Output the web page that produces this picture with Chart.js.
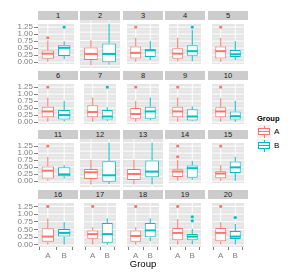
<!DOCTYPE html>
<html>
<head>
<meta charset="utf-8">
<script src="https://cdn.jsdelivr.net/npm/chart.js@4/dist/chart.umd.min.js"></script>
<style>
body { margin: 0; background: #fff; font-family: "Liberation Sans", Arial, sans-serif; }
#fig { position: relative; width: 303px; height: 275px; overflow: hidden; background: #fff; }
#fig canvas { position: absolute; }
.strip { position: absolute; width: 40px; height: 9px; background: #CCCCCC; color: #1A1A1A;
         font-size: 7.5px; line-height: 9.5px; text-align: center; }
.xtitle { position: absolute; left: 38px; width: 210px; top: 258px; text-align: center;
          font-size: 9.5px; color: #000; }
.ltitle { position: absolute; left: 257px; top: 114px; font-size: 7.5px; font-weight: bold; color: #000; }
.key { position: absolute; width: 14px; height: 13px; background: #F2F2F2; }
.key div { position: absolute; }
.klabel { position: absolute; left: 274px; font-size: 8px; color: #000; line-height: 10px; }
</style>
</head>
<body>
<div id="fig"></div>
<script>
'use strict';

// facet labels and groups
var panels = ['1', '2', '3', '4', '5', '6', '7', '8', '9', '10',
              '11', '12', '13', '14', '15', '16', '17', '18', '19', '20'];
var groups = ['A', 'B'];
var yTicks = [0, 0.25, 0.5, 0.75, 1, 1.25];

// box stats per panel, group A
var lowA  = [0.01, 0.01, 0.01, 0.02, 0.01, 0.01, 0.01, 0.01, 0.01, 0.01,
             0.01, 0.01, 0.01, 0.01, 0.01, 0.01, 0.01, 0.01, 0.01, 0.01];
var q1A   = [0.12, 0.17, 0.13, 0.12, 0.13, 0.17, 0.17, 0.12, 0.17, 0.17,
             0.09, 0.17, 0.14, 0.15, 0.10, 0.10, 0.20, 0.10, 0.15, 0.12];
var medA  = [0.30, 0.35, 0.33, 0.30, 0.39, 0.38, 0.36, 0.29, 0.38, 0.38,
             0.37, 0.37, 0.32, 0.34, 0.27, 0.27, 0.35, 0.29, 0.39, 0.39];
var q3A   = [0.41, 0.54, 0.56, 0.49, 0.56, 0.55, 0.60, 0.50, 0.55, 0.53,
             0.52, 0.47, 0.47, 0.42, 0.35, 0.54, 0.47, 0.47, 0.55, 0.55];
var highA = [0.77, 0.76, 0.87, 0.87, 0.87, 0.88, 0.88, 0.76, 0.88, 0.85,
             0.87, 0.74, 0.74, 0.75, 0.57, 0.86, 0.57, 0.57, 0.84, 0.74];
var outA  = [[0.87], [], [1.25], [], [1.25], [1.25], [], [1.25], [1.25], [1.25],
             [1.25], [], [], [1.25, 0.87], [1.25], [1.25], [1.25], [1.25], [1.25], [1.25]];

// box stats per panel, group B
var lowB  = [0.10, 0.03, 0.07, 0.03, 0.07, 0.02, 0.04, 0.06, 0.03, 0.01,
             0.09, 0.02, 0.01, 0.05, 0.01, 0.01, 0.01, 0.12, 0.02, 0.01];
var q1B   = [0.22, 0.10, 0.18, 0.23, 0.18, 0.09, 0.09, 0.12, 0.06, 0.09,
             0.17, 0.09, 0.22, 0.12, 0.29, 0.27, 0.07, 0.25, 0.15, 0.19];
var medB  = [0.51, 0.35, 0.42, 0.39, 0.28, 0.25, 0.20, 0.38, 0.20, 0.21,
             0.24, 0.28, 0.39, 0.46, 0.49, 0.39, 0.35, 0.47, 0.27, 0.27];
var q3B   = [0.60, 0.66, 0.46, 0.60, 0.43, 0.43, 0.43, 0.55, 0.46, 0.38,
             0.49, 0.70, 0.72, 0.56, 0.70, 0.52, 0.71, 0.71, 0.35, 0.45];
var highB = [0.74, 1.25, 0.75, 1.15, 0.75, 0.76, 0.53, 0.88, 0.56, 0.76,
             0.57, 1.25, 1.25, 0.72, 0.87, 0.74, 0.86, 0.86, 0.52, 0.68];
var outB  = [[1.25], [], [], [1.25], [], [], [1.25], [], [], [],
             [], [], [], [], [], [], [], [], [0.91, 0.78], [0.89]];

var colours = ['#F8766D', '#00BFC4'];

var COL_X = [38, 80, 123, 165, 208];
var ROW_Y = [11, 71, 130, 190];
var STRIP_H = 9, PANEL_W = 40, PANEL_H = 48, Y_AXIS_W = 38, X_AXIS_H = 14;
var FONT = '"Liberation Sans", Arial, sans-serif';

function boxStats(i, g) {
    if (g === 0) return { low: lowA[i], q1: q1A[i], med: medA[i], q3: q3A[i], high: highA[i] };
    return { low: lowB[i], q1: q1B[i], med: medB[i], q3: q3B[i], high: highB[i] };
}

var facetPlugin = {
    id: 'facet',
    beforeDraw: function(chart) {
        var a = chart.chartArea, ctx = chart.ctx;
        var xs = chart.scales.x, ys = chart.scales.y;
        ctx.save();
        ctx.fillStyle = '#E5E5E5';
        ctx.fillRect(a.left, a.top, a.right - a.left, a.bottom - a.top);
        ctx.strokeStyle = '#F2F2F2';
        ctx.lineWidth = 0.6;
        for (var k = 0; k < yTicks.length - 1; k++) {
            var ym = ys.getPixelForValue((yTicks[k] + yTicks[k + 1]) / 2);
            ctx.beginPath(); ctx.moveTo(a.left, ym); ctx.lineTo(a.right, ym); ctx.stroke();
        }
        ctx.strokeStyle = '#FFFFFF';
        ctx.lineWidth = 1;
        yTicks.forEach(function(v) {
            var y = ys.getPixelForValue(v);
            ctx.beginPath(); ctx.moveTo(a.left, y); ctx.lineTo(a.right, y); ctx.stroke();
        });
        groups.forEach(function(g, j) {
            var x = xs.getPixelForValue(j + 1);
            ctx.beginPath(); ctx.moveTo(x, a.top); ctx.lineTo(x, a.bottom); ctx.stroke();
        });
        ctx.restore();
    },
    beforeDatasetsDraw: function(chart, args, opts) {
        var ctx = chart.ctx, ys = chart.scales.y;
        var bars = chart.getDatasetMeta(0).data;
        ctx.save();
        ctx.lineWidth = 1;
        bars.forEach(function(bar, j) {
            var s = boxStats(opts.index, j);
            ctx.strokeStyle = colours[j];
            ctx.beginPath();
            ctx.moveTo(bar.x, ys.getPixelForValue(s.high));
            ctx.lineTo(bar.x, ys.getPixelForValue(s.q3));
            ctx.moveTo(bar.x, ys.getPixelForValue(s.q1));
            ctx.lineTo(bar.x, ys.getPixelForValue(s.low));
            ctx.stroke();
        });
        ctx.restore();
    },
    afterDatasetsDraw: function(chart, args, opts) {
        var ctx = chart.ctx, ys = chart.scales.y;
        var bars = chart.getDatasetMeta(0).data;
        ctx.save();
        ctx.lineWidth = 2;
        bars.forEach(function(bar, j) {
            var s = boxStats(opts.index, j);
            var y = ys.getPixelForValue(s.med);
            ctx.strokeStyle = colours[j];
            ctx.beginPath();
            ctx.moveTo(bar.x - bar.width / 2, y);
            ctx.lineTo(bar.x + bar.width / 2, y);
            ctx.stroke();
        });
        ctx.restore();
    }
};

var fig = document.getElementById('fig');

panels.forEach(function(label, i) {
    var r = Math.floor(i / 5), c = i % 5;
    var left = c === 0, bottom = r === 3;

    var strip = document.createElement('div');
    strip.className = 'strip';
    strip.style.left = COL_X[c] + 'px';
    strip.style.top = ROW_Y[r] + 'px';
    strip.textContent = label;
    fig.appendChild(strip);

    var w = PANEL_W + (left ? Y_AXIS_W : 0);
    var h = PANEL_H + (bottom ? X_AXIS_H : 0);
    var canvas = document.createElement('canvas');
    canvas.width = w; canvas.height = h;
    canvas.style.width = w + 'px'; canvas.style.height = h + 'px';
    canvas.style.left = (COL_X[c] - (left ? Y_AXIS_W : 0)) + 'px';
    canvas.style.top = (ROW_Y[r] + STRIP_H) + 'px';
    fig.appendChild(canvas);

    var boxes = groups.map(function(g, j) {
        var s = boxStats(i, j);
        return { x: j + 1, y: [s.q1, s.q3] };
    });
    var points = [], pointCols = [];
    [outA[i], outB[i]].forEach(function(list, j) {
        list.forEach(function(v) {
            points.push({ x: j + 1, y: v });
            pointCols.push(colours[j]);
        });
    });

    new Chart(canvas, {
        type: 'bar',
        data: {
            datasets: [{
                type: 'bar',
                data: boxes,
                backgroundColor: '#FFFFFF',
                borderColor: colours,
                borderWidth: 1,
                borderSkipped: false,
                barPercentage: 0.75,
                categoryPercentage: 1
            }, {
                type: 'scatter',
                data: points,
                pointBackgroundColor: pointCols,
                pointBorderWidth: 0,
                pointRadius: 1.6
            }]
        },
        options: {
            responsive: false,
            animation: false,
            devicePixelRatio: 1,
            events: [],
            layout: { padding: 0 },
            plugins: {
                legend: { display: false },
                tooltip: { enabled: false },
                facet: { index: i }
            },
            scales: {
                x: {
                    type: 'linear', min: 0.4, max: 2.6, offset: false,
                    display: bottom,
                    afterBuildTicks: function(s) { s.ticks = groups.map(function(g, j) { return { value: j + 1 }; }); },
                    afterFit: function(s) {
                        s.height = bottom ? X_AXIS_H : 0;
                        s.paddingLeft = 0; s.paddingRight = 0;
                    },
                    grid: { drawOnChartArea: false, drawTicks: true, tickLength: 3, color: '#7F7F7F' },
                    border: { display: false },
                    ticks: {
                        autoSkip: false, maxRotation: 0, padding: 1,
                        color: '#7F7F7F', font: { size: 8, family: FONT },
                        callback: function(v) { return groups[v - 1]; }
                    }
                },
                y: {
                    type: 'linear', min: -0.068, max: 1.36,
                    display: left,
                    afterBuildTicks: function(s) { s.ticks = yTicks.map(function(v) { return { value: v }; }); },
                    afterFit: function(s) {
                        s.width = left ? Y_AXIS_W : 0;
                        s.paddingTop = 0; s.paddingBottom = 0;
                    },
                    grid: { drawOnChartArea: false, drawTicks: true, tickLength: 4, color: '#7F7F7F' },
                    border: { display: false },
                    ticks: {
                        autoSkip: false, padding: 1,
                        color: '#7F7F7F', font: { size: 8, family: FONT },
                        callback: function(v) { return v.toFixed(2); }
                    }
                }
            }
        },
        plugins: [facetPlugin]
    });
});

// axis title
var xt = document.createElement('div');
xt.className = 'xtitle';
xt.textContent = 'Group';
fig.appendChild(xt);

// legend
var lt = document.createElement('div');
lt.className = 'ltitle';
lt.textContent = 'Group';
fig.appendChild(lt);

groups.forEach(function(g, j) {
    var top = 125 + j * 14;
    var key = document.createElement('div');
    key.className = 'key';
    key.style.left = '257px';
    key.style.top = top + 'px';
    var col = colours[j];
    key.innerHTML =
        '<div style="left:6.5px;top:1px;width:1px;height:2.5px;background:' + col + '"></div>' +
        '<div style="left:1px;top:3px;width:10px;height:5px;border:1px solid ' + col + ';background:#fff"></div>' +
        '<div style="left:1px;top:5.5px;width:12px;height:1.5px;background:' + col + '"></div>' +
        '<div style="left:6.5px;top:10px;width:1px;height:2.5px;background:' + col + '"></div>';
    fig.appendChild(key);

    var kl = document.createElement('div');
    kl.className = 'klabel';
    kl.style.top = (top + 1.5) + 'px';
    kl.textContent = g;
    fig.appendChild(kl);
});
</script>
</body>
</html>
